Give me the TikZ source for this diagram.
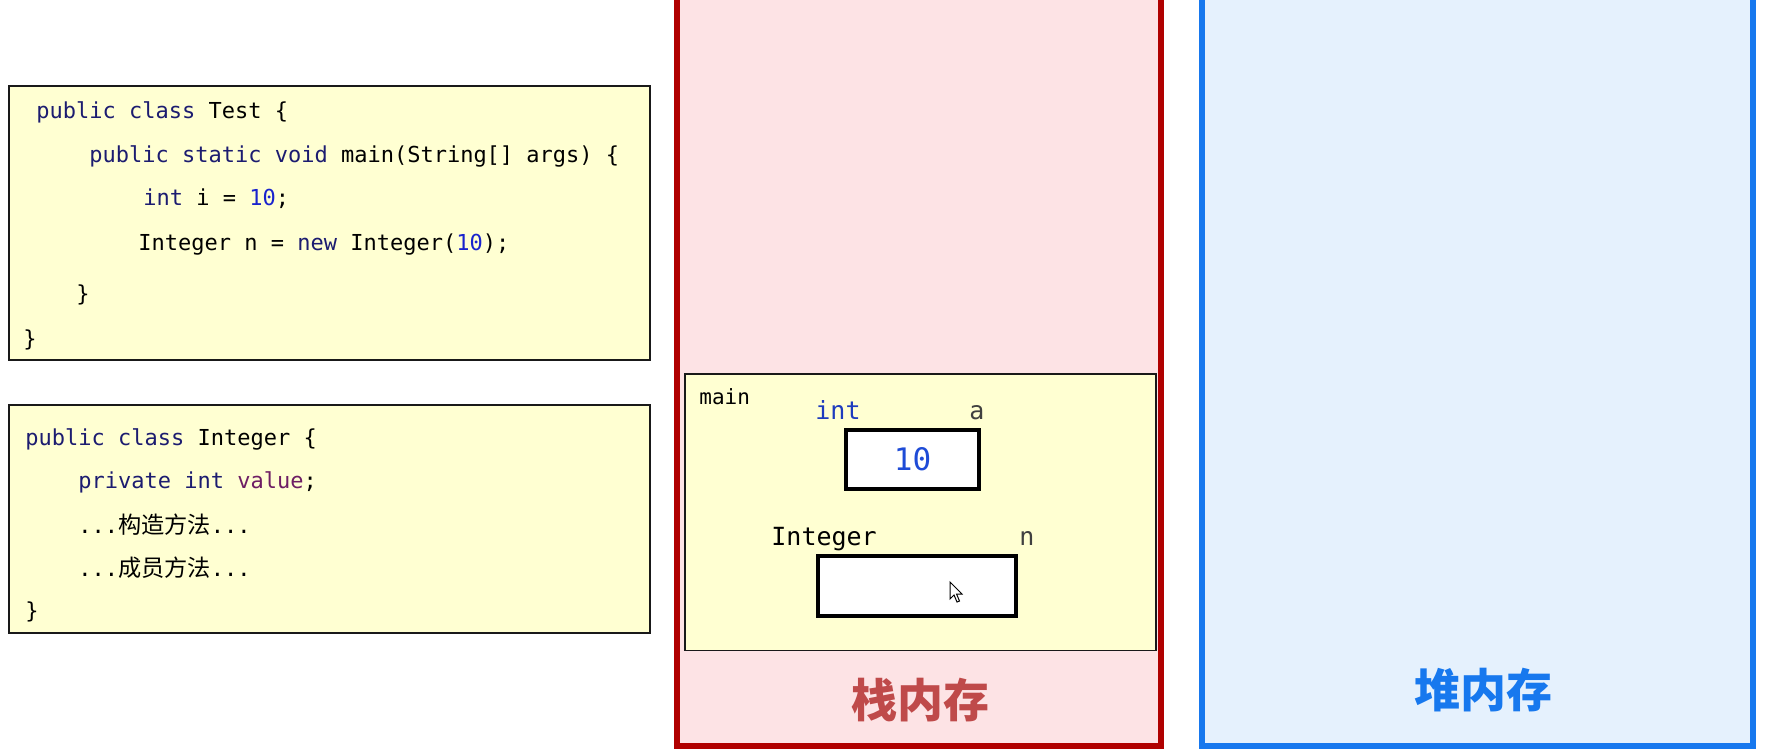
\documentclass[tikz,border=0pt]{standalone}
\usepackage{fontspec}
\setmonofont{DejaVu Sans Mono}
\newfontfamily\cjk{Noto Sans CJK SC}
\definecolor{codebg}{HTML}{FFFFD2}
\definecolor{kw}{RGB}{28,28,112}
\definecolor{num}{RGB}{25,35,205}
\definecolor{fld}{RGB}{110,30,100}
\definecolor{stackfill}{HTML}{FDE3E5}
\definecolor{stackred}{HTML}{B00000}
\definecolor{stacklabel}{HTML}{BF4A4A}
\definecolor{heapfill}{HTML}{E5F1FD}
\definecolor{heapblue}{HTML}{1778EE}
\definecolor{intblue}{RGB}{30,60,190}
\definecolor{valblue}{RGB}{30,75,215}
\definecolor{dimgray}{HTML}{404040}
\begin{document}
\begin{tikzpicture}[x=0.5pt,y=-0.5pt,
  codebox/.style={draw=black!90,line width=1pt,fill=codebg},
  codeline/.style={anchor=base west,inner sep=0pt,font=\ttfamily\fontsize{11}{13}\selectfont},
  framelabel/.style={anchor=base west,inner sep=0pt,font=\ttfamily\fontsize{12.5}{14}\selectfont},
  valbox/.style={draw=black,line width=2pt,fill=white,inner sep=0pt},
  memlabel/.style={font=\cjk\bfseries\fontsize{23}{26}\selectfont,inner sep=0pt}]
\useasboundingbox (0,0) rectangle (1777,755);
\clip (0,0) rectangle (1777,755);
\fill[white] (0,0) rectangle (1777,755);
% stack and heap
\draw[stackred,line width=3pt,fill=stackfill] (677,-20) rectangle (1161,746);
\draw[heapblue,line width=3pt,fill=heapfill] (1202,-20) rectangle (1753,745.5);
% code box 1
\draw[codebox] (9,86) rectangle (650,360);
\node[codeline] (c1) at (36,118) {\textcolor{kw}{public class} Test \{};
\node[codeline] (c2) at (89,162.5) {\textcolor{kw}{public static void} main(String[] args) \{};
\node[codeline] (c3) at (143,205) {\textcolor{kw}{int} i = \textcolor{num}{10};};
\node[codeline] (c4) at (138,250.5) {Integer n = \textcolor{kw}{new} Integer(\textcolor{num}{10});};
\node[codeline] (c5) at (76,301) {\}};
\node[codeline] (c6) at (23,346) {\}};
% code box 2
\draw[codebox] (9,405) rectangle (650,633);
\node[codeline] (d1) at (25,445) {\textcolor{kw}{public class} Integer \{};
\node[codeline] (d2) at (78,488) {\textcolor{kw}{private int} \textcolor{fld}{value};};
\node[codeline] (d3) at (78,533) {...{\cjk\fontsize{11.6}{13}\selectfont 构造方法}...};
\node[codeline] (d4) at (78,576) {...{\cjk\fontsize{11.6}{13}\selectfont 成员方法}...};
\node[codeline] (d5) at (25,618) {\}};
% main frame
\draw[draw=black!90,line width=0.8pt,fill=codebg] (685,374) rectangle (1156,650.5);
\node[anchor=base west,inner sep=0pt,font=\ttfamily\fontsize{10.5}{12}\selectfont] (mainlbl) at (699,404) {main};
\node[framelabel,text=intblue] (intlbl) at (815,419) {int};
\node[framelabel,text=dimgray] (albl) at (969,419) {a};
\node[valbox,minimum width=66.5pt,minimum height=29.5pt,text=valblue,font=\ttfamily\fontsize{15.5}{17}\selectfont] (boxa) at (912.5,459.5) {10};
\node[framelabel] (intglbl) at (771,545.5) {Integer};
\node[framelabel,text=dimgray] (nlbl) at (1019,545.5) {n};
\node[valbox,minimum width=99pt,minimum height=30pt] (boxn) at (917,586) {};
% mouse cursor
\draw[black,line width=0.5pt,fill=white,line join=miter] (950,582) -- (950,599) -- (954,595) -- (957,602) -- (959.5,601) -- (956.5,594) -- (962,594) -- cycle;
% labels
\node[memlabel,text=stacklabel] (stacklbl) at (920,700) {栈内存};
\node[memlabel,text=heapblue] (heaplbl) at (1483,690) {堆内存};
\end{tikzpicture}
\end{document}
